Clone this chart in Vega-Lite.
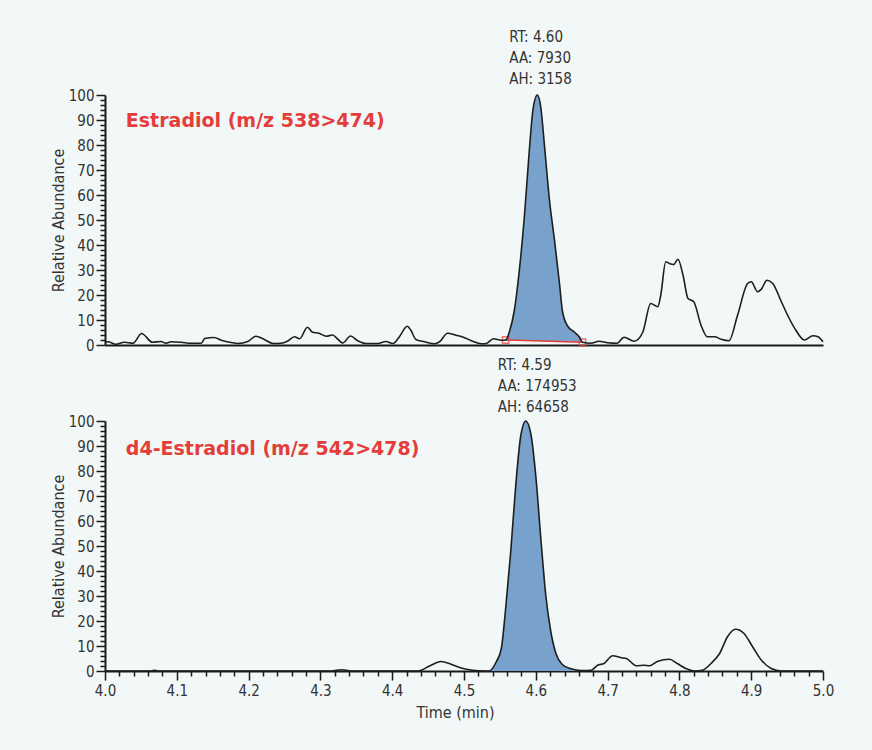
{
  "$schema": "https://vega.github.io/schema/vega-lite/v6.json",
  "background": "#f1f8f7",
  "padding": {"left": 50, "top": 30, "right": 41, "bottom": 30},
  "bounds": "flush",
  "spacing": 76,
  "config": {
    "view": {"stroke": null},
    "font": "DejaVu Sans Condensed, Roboto, sans-serif",
    "axis": {
      "grid": false,
      "domainColor": "#1a1a1a",
      "domainWidth": 2,
      "tickColor": "#1a1a1a",
      "tickWidth": 1.5,
      "labelFont": "DejaVu Sans Condensed, Roboto, sans-serif",
      "labelFontSize": 15,
      "labelColor": "#333333",
      "titleFont": "DejaVu Sans Condensed, Roboto, sans-serif",
      "titleFontSize": 16,
      "titleFontWeight": "normal",
      "titleColor": "#333333"
    }
  },
  "datasets": {
    "e2": [
      {"t": 4.000, "v": 1.0}, {"t": 4.004, "v": 1.3}, {"t": 4.015, "v": 0.3}, {"t": 4.027, "v": 1.1},
      {"t": 4.039, "v": 0.7}, {"t": 4.051, "v": 4.6}, {"t": 4.066, "v": 1.1}, {"t": 4.078, "v": 1.4},
      {"t": 4.085, "v": 0.7}, {"t": 4.092, "v": 1.3}, {"t": 4.106, "v": 1.1}, {"t": 4.120, "v": 0.7},
      {"t": 4.134, "v": 0.7}, {"t": 4.139, "v": 2.6}, {"t": 4.152, "v": 3.0}, {"t": 4.162, "v": 1.9},
      {"t": 4.178, "v": 0.9}, {"t": 4.185, "v": 0.6}, {"t": 4.199, "v": 1.4}, {"t": 4.210, "v": 3.5},
      {"t": 4.222, "v": 2.2}, {"t": 4.234, "v": 0.6}, {"t": 4.245, "v": 0.7}, {"t": 4.254, "v": 1.5},
      {"t": 4.264, "v": 3.3}, {"t": 4.271, "v": 2.5}, {"t": 4.282, "v": 7.1}, {"t": 4.289, "v": 5.1},
      {"t": 4.298, "v": 4.7}, {"t": 4.308, "v": 3.5}, {"t": 4.317, "v": 4.0}, {"t": 4.324, "v": 2.4},
      {"t": 4.331, "v": 0.8}, {"t": 4.342, "v": 3.6}, {"t": 4.352, "v": 1.7}, {"t": 4.364, "v": 0.6},
      {"t": 4.380, "v": 0.6}, {"t": 4.391, "v": 1.4}, {"t": 4.401, "v": 0.6}, {"t": 4.410, "v": 3.3},
      {"t": 4.421, "v": 7.5}, {"t": 4.426, "v": 5.9}, {"t": 4.433, "v": 2.2}, {"t": 4.445, "v": 1.3},
      {"t": 4.459, "v": 0.5}, {"t": 4.466, "v": 1.3}, {"t": 4.477, "v": 4.7}, {"t": 4.489, "v": 3.9},
      {"t": 4.500, "v": 3.0}, {"t": 4.512, "v": 1.5}, {"t": 4.524, "v": 0.5}, {"t": 4.531, "v": 0.6},
      {"t": 4.541, "v": 2.5}, {"t": 4.552, "v": 1.9}, {"t": 4.558, "v": 2.0}, {"t": 4.563, "v": 5.1},
      {"t": 4.570, "v": 13.7}, {"t": 4.577, "v": 29.7}, {"t": 4.584, "v": 51}, {"t": 4.591, "v": 78},
      {"t": 4.596, "v": 94}, {"t": 4.602, "v": 100}, {"t": 4.607, "v": 95}, {"t": 4.612, "v": 80},
      {"t": 4.619, "v": 58}, {"t": 4.626, "v": 42}, {"t": 4.633, "v": 24.6}, {"t": 4.637, "v": 13.7},
      {"t": 4.644, "v": 7.7}, {"t": 4.654, "v": 5.1}, {"t": 4.661, "v": 3.1}, {"t": 4.665, "v": 1.1},
      {"t": 4.677, "v": 0.7}, {"t": 4.688, "v": 1.5}, {"t": 4.700, "v": 0.9}, {"t": 4.713, "v": 0.7},
      {"t": 4.723, "v": 3.1}, {"t": 4.737, "v": 1.5}, {"t": 4.749, "v": 5.1}, {"t": 4.760, "v": 16.6},
      {"t": 4.770, "v": 15.3}, {"t": 4.774, "v": 19.9}, {"t": 4.781, "v": 33.3}, {"t": 4.786, "v": 32.6},
      {"t": 4.792, "v": 32.2}, {"t": 4.798, "v": 34.3}, {"t": 4.805, "v": 28}, {"t": 4.812, "v": 18.6},
      {"t": 4.820, "v": 17.3}, {"t": 4.830, "v": 8.0}, {"t": 4.839, "v": 3.3}, {"t": 4.849, "v": 3.3},
      {"t": 4.858, "v": 2.3}, {"t": 4.869, "v": 1.7}, {"t": 4.881, "v": 11.9}, {"t": 4.895, "v": 24.6},
      {"t": 4.900, "v": 25.3}, {"t": 4.909, "v": 21.3}, {"t": 4.914, "v": 22.3}, {"t": 4.922, "v": 25.9},
      {"t": 4.930, "v": 24.6}, {"t": 4.942, "v": 17.3}, {"t": 4.953, "v": 10.6}, {"t": 4.962, "v": 6.0},
      {"t": 4.974, "v": 2.0}, {"t": 4.986, "v": 3.7}, {"t": 4.993, "v": 3.3}, {"t": 5.000, "v": 1.3}
    ],
    "e2peak": [
      {"t": 4.558, "v": 2.0, "base": 2.0}, {"t": 4.563, "v": 5.1, "base": 1.96},
      {"t": 4.570, "v": 13.7, "base": 1.90}, {"t": 4.577, "v": 29.7, "base": 1.84},
      {"t": 4.584, "v": 51, "base": 1.78}, {"t": 4.591, "v": 78, "base": 1.72},
      {"t": 4.596, "v": 94, "base": 1.68}, {"t": 4.602, "v": 100, "base": 1.63},
      {"t": 4.607, "v": 95, "base": 1.59}, {"t": 4.612, "v": 80, "base": 1.55},
      {"t": 4.619, "v": 58, "base": 1.49}, {"t": 4.626, "v": 42, "base": 1.43},
      {"t": 4.633, "v": 24.6, "base": 1.37}, {"t": 4.637, "v": 13.7, "base": 1.34},
      {"t": 4.644, "v": 7.7, "base": 1.28}, {"t": 4.654, "v": 5.1, "base": 1.19},
      {"t": 4.661, "v": 3.1, "base": 1.13}, {"t": 4.665, "v": 1.1, "base": 1.1}
    ],
    "e2base": [
      {"t": 4.558, "v": 2.0}, {"t": 4.665, "v": 1.1}
    ],
    "e2labels": [
      {"t": 4.029, "v": 89.6, "label": "Estradiol (m/z 538>474)"}
    ],
    "e2ann": [
      {"t": 4.563, "v": 100, "label": "RT: 4.60|AA: 7930|AH: 3158"}
    ],
    "d4": [
      {"t": 4.000, "v": 0}, {"t": 4.064, "v": 0}, {"t": 4.068, "v": 0.3}, {"t": 4.074, "v": 0},
      {"t": 4.315, "v": 0}, {"t": 4.329, "v": 0.5}, {"t": 4.343, "v": 0}, {"t": 4.436, "v": 0},
      {"t": 4.452, "v": 2.0}, {"t": 4.468, "v": 3.8}, {"t": 4.482, "v": 2.7}, {"t": 4.496, "v": 1.2},
      {"t": 4.512, "v": 0.3}, {"t": 4.528, "v": 0}, {"t": 4.535, "v": 0}, {"t": 4.545, "v": 3.7},
      {"t": 4.552, "v": 9}, {"t": 4.558, "v": 25}, {"t": 4.565, "v": 47.5}, {"t": 4.572, "v": 74},
      {"t": 4.579, "v": 94}, {"t": 4.586, "v": 100}, {"t": 4.593, "v": 95}, {"t": 4.600, "v": 78},
      {"t": 4.607, "v": 53}, {"t": 4.614, "v": 30}, {"t": 4.621, "v": 15.6}, {"t": 4.628, "v": 7},
      {"t": 4.637, "v": 2.6}, {"t": 4.649, "v": 0.9}, {"t": 4.663, "v": 0.2}, {"t": 4.677, "v": 0.3},
      {"t": 4.686, "v": 2.3}, {"t": 4.695, "v": 3.0}, {"t": 4.707, "v": 6.1}, {"t": 4.719, "v": 5.3},
      {"t": 4.726, "v": 5.0}, {"t": 4.740, "v": 2.1}, {"t": 4.751, "v": 2.3}, {"t": 4.758, "v": 2.1},
      {"t": 4.770, "v": 3.9}, {"t": 4.786, "v": 4.7}, {"t": 4.797, "v": 3.0}, {"t": 4.809, "v": 1.0},
      {"t": 4.821, "v": 0}, {"t": 4.832, "v": 0.3}, {"t": 4.844, "v": 3.0}, {"t": 4.856, "v": 7},
      {"t": 4.867, "v": 13.7}, {"t": 4.878, "v": 16.7}, {"t": 4.890, "v": 15}, {"t": 4.902, "v": 9.7},
      {"t": 4.914, "v": 4.4}, {"t": 4.928, "v": 1.0}, {"t": 4.942, "v": 0}, {"t": 5.000, "v": 0}
    ],
    "d4peak": [
      {"t": 4.535, "v": 0, "base": 0}, {"t": 4.545, "v": 3.7, "base": 0},
      {"t": 4.552, "v": 9, "base": 0}, {"t": 4.558, "v": 25, "base": 0},
      {"t": 4.565, "v": 47.5, "base": 0}, {"t": 4.572, "v": 74, "base": 0},
      {"t": 4.579, "v": 94, "base": 0}, {"t": 4.586, "v": 100, "base": 0},
      {"t": 4.593, "v": 95, "base": 0}, {"t": 4.600, "v": 78, "base": 0},
      {"t": 4.607, "v": 53, "base": 0}, {"t": 4.614, "v": 30, "base": 0},
      {"t": 4.621, "v": 15.6, "base": 0}, {"t": 4.628, "v": 7, "base": 0},
      {"t": 4.637, "v": 2.6, "base": 0}, {"t": 4.649, "v": 0.9, "base": 0},
      {"t": 4.663, "v": 0.2, "base": 0}
    ],
    "d4labels": [
      {"t": 4.029, "v": 89, "label": "d4-Estradiol (m/z 542>478)"}
    ],
    "d4ann": [
      {"t": 4.547, "v": 100, "label": "RT: 4.59|AA: 174953|AH: 64658"}
    ]
  },
  "vconcat": [
    {
      "width": 718,
      "height": 250,
      "encoding": {
        "x": {"field": "t", "type": "quantitative", "scale": {"domain": [4, 5], "nice": false, "zero": false},
              "axis": {"labels": false, "ticks": false, "title": null}},
        "y": {"field": "v", "type": "quantitative", "scale": {"domain": [0, 100], "nice": false},
              "axis": {
                "values": [0,2,4,6,8,10,12,14,16,18,20,22,24,26,28,30,32,34,36,38,40,42,44,46,48,50,52,54,56,58,60,62,64,66,68,70,72,74,76,78,80,82,84,86,88,90,92,94,96,98,100],
                "labelExpr": "datum.value % 10 === 0 ? datum.label : ''",
                "tickSize": {"condition": {"test": "datum.value % 10 === 0", "value": 9}, "value": 5},
                "labelPadding": 2, "labelOverlap": false,
                "title": "Relative Abundance", "titlePadding": 2
              }}
      },
      "layer": [
        {
          "data": {"name": "e2peak"},
          "mark": {"type": "area", "interpolate": "monotone", "color": "#78a1cb", "opacity": 1},
          "encoding": {"y2": {"field": "base"}}
        },
        {
          "data": {"name": "e2base"},
          "mark": {"type": "line", "color": "#e53d3a", "strokeWidth": 1.5}
        },
        {
          "data": {"name": "e2base"},
          "mark": {"type": "point", "shape": "square", "filled": false, "color": "#e53d3a", "size": 40, "strokeWidth": 1.5}
        },
        {
          "data": {"name": "e2"},
          "mark": {"type": "line", "interpolate": "monotone", "color": "#1e1e1e", "strokeWidth": 1.6}
        },
        {
          "data": {"name": "e2labels"},
          "mark": {"type": "text", "align": "left", "baseline": "middle", "font": "DejaVu Sans", "fontWeight": "bold", "fontSize": 19, "color": "#e53d3a"},
          "encoding": {"text": {"field": "label"}}
        },
        {
          "data": {"name": "e2ann"},
          "mark": {"type": "text", "align": "left", "baseline": "bottom", "fontSize": 15, "lineHeight": 21, "lineBreak": "|", "dy": -50, "color": "#333333"},
          "encoding": {"text": {"field": "label"}}
        }
      ]
    },
    {
      "width": 718,
      "height": 250,
      "encoding": {
        "x": {"field": "t", "type": "quantitative", "scale": {"domain": [4, 5], "nice": false, "zero": false},
              "axis": {
                "values": [4,4.02,4.04,4.06,4.08,4.1,4.12,4.14,4.16,4.18,4.2,4.22,4.24,4.26,4.28,4.3,4.32,4.34,4.36,4.38,4.4,4.42,4.44,4.46,4.48,4.5,4.52,4.54,4.56,4.58,4.6,4.62,4.64,4.66,4.68,4.7,4.72,4.74,4.76,4.78,4.8,4.82,4.84,4.86,4.88,4.9,4.92,4.94,4.96,4.98,5],
                "labelExpr": "abs(datum.value*10 - round(datum.value*10)) < 0.001 ? format(datum.value, '.1f') : ''",
                "tickSize": {"condition": {"test": "abs(datum.value*10 - round(datum.value*10)) < 0.001", "value": 9}, "value": 5},
                "labelPadding": 3, "labelOverlap": false, "labelFlush": false,
                "title": "Time (min)", "titlePadding": 6, "titleX": 350
              }},
        "y": {"field": "v", "type": "quantitative", "scale": {"domain": [0, 100], "nice": false},
              "axis": {
                "values": [0,2,4,6,8,10,12,14,16,18,20,22,24,26,28,30,32,34,36,38,40,42,44,46,48,50,52,54,56,58,60,62,64,66,68,70,72,74,76,78,80,82,84,86,88,90,92,94,96,98,100],
                "labelExpr": "datum.value % 10 === 0 ? datum.label : ''",
                "tickSize": {"condition": {"test": "datum.value % 10 === 0", "value": 9}, "value": 5},
                "labelPadding": 2, "labelOverlap": false,
                "title": "Relative Abundance", "titlePadding": 2
              }}
      },
      "layer": [
        {
          "data": {"name": "d4peak"},
          "mark": {"type": "area", "interpolate": "monotone", "color": "#78a1cb", "opacity": 1},
          "encoding": {"y2": {"field": "base"}}
        },
        {
          "data": {"name": "d4"},
          "mark": {"type": "line", "interpolate": "monotone", "color": "#1e1e1e", "strokeWidth": 1.6}
        },
        {
          "data": {"name": "d4labels"},
          "mark": {"type": "text", "align": "left", "baseline": "middle", "font": "DejaVu Sans", "fontWeight": "bold", "fontSize": 19, "color": "#e53d3a"},
          "encoding": {"text": {"field": "label"}}
        },
        {
          "data": {"name": "d4ann"},
          "mark": {"type": "text", "align": "left", "baseline": "bottom", "fontSize": 15, "lineHeight": 21, "lineBreak": "|", "dy": -48, "color": "#333333"},
          "encoding": {"text": {"field": "label"}}
        }
      ]
    }
  ]
}
